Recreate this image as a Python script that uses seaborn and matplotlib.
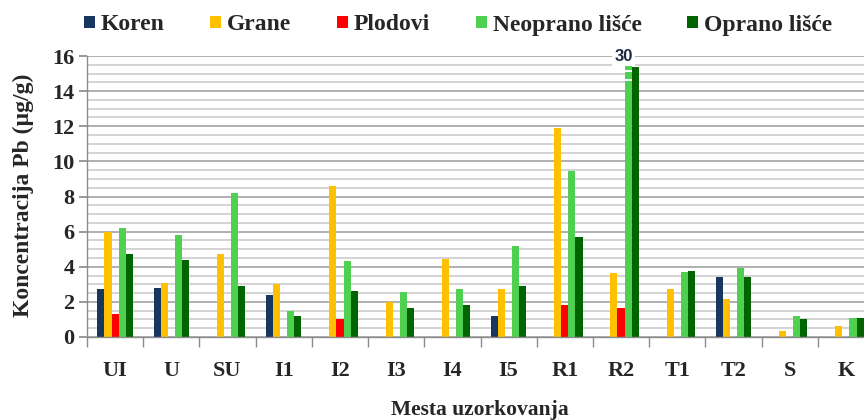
import numpy as np
import pandas as pd
import matplotlib
matplotlib.use("Agg")
import matplotlib.pyplot as plt
import seaborn as sns
from matplotlib.patches import Rectangle
from matplotlib.ticker import MultipleLocator, FixedLocator

nan = np.nan

# Sampling sites and Pb concentrations (µg/g) per plant part
sites = ["UI", "U", "SU", "I1", "I2", "I3", "I4", "I5", "R1", "R2", "T1", "T2", "S", "K"]
parts = ["Koren", "Grane", "Plodovi", "Neoprano lišće", "Oprano lišće"]
koren = [2.75, 2.8, nan, 2.4, nan, nan, nan, 1.2, nan, nan, nan, 3.4, nan, nan]
grane = [6.0, 3.05, 4.7, 3.0, 8.6, 2.0, 4.45, 2.75, 11.9, 3.65, 2.75, 2.15, 0.35, 0.6]
plodovi = [1.3, nan, nan, nan, 1.05, nan, nan, nan, 1.8, 1.65, nan, nan, nan, nan]
neoprano = [6.2, 5.8, 8.2, 1.5, 4.3, 2.55, 2.75, 5.2, 9.45, 30, 3.7, 3.95, 1.2, 1.1]
oprano = [4.7, 4.4, 2.9, 1.2, 2.6, 1.65, 1.8, 2.9, 5.7, 15.35, 3.75, 3.4, 1.0, 1.1]
colors = ["#17375E", "#FFC000", "#FF0000", "#50D050", "#006400"]

y_max = 16
break_top = 15.5  # visible top of bars exceeding the axis range

df = pd.DataFrame({
    "site": np.tile(sites, len(parts)),
    "part": np.repeat(parts, len(sites)),
    "value": np.concatenate([koren, grane, plodovi, neoprano, oprano]),
}).dropna()

sns.set_theme(style="white")
plt.rcParams["font.family"] = ["Liberation Serif", "DejaVu Serif"]
plt.rcParams["font.weight"] = "bold"
plt.rcParams["axes.labelweight"] = "bold"

fig = plt.figure(figsize=(8.64, 4.2), dpi=100)
ax = fig.add_axes([87 / 864, 83 / 420, 787 / 864, 281 / 420])
ax.set_axisbelow(True)

sns.barplot(data=df, x="site", y="value", hue="part", order=sites, hue_order=parts,
            palette=colors, saturation=1, width=0.63, errorbar=None, linewidth=0, ax=ax)

ax.set_xlim(-0.5, len(sites) - 0.5)
ax.set_ylim(0, y_max)

# Grid: major every 2, minor every 0.5
ax.yaxis.set_major_locator(MultipleLocator(2))
ax.yaxis.set_minor_locator(MultipleLocator(0.5))
ax.yaxis.grid(True, which="major", color="#9a9a9a", lw=1.1)
ax.yaxis.grid(True, which="minor", color="#cccccc", lw=1.2)
ax.xaxis.grid(False)

for s in ["top", "right"]:
    ax.spines[s].set_visible(False)
for s in ["left", "bottom"]:
    ax.spines[s].set_color("#8c8c8c")
    ax.spines[s].set_linewidth(1.0)

ax.tick_params(axis="y", which="major", length=6, color="#8c8c8c", direction="out",
               labelsize=16, pad=3, left=True)
ax.tick_params(axis="y", which="minor", length=0)
ax.xaxis.set_minor_locator(FixedLocator(np.arange(-0.5, len(sites), 1)))
ax.tick_params(axis="x", which="major", length=0, labelsize=16, pad=17)
ax.tick_params(axis="x", which="minor", length=7, color="#8c8c8c", direction="out", bottom=True)
for t in ax.get_xticklabels() + ax.get_yticklabels():
    t.set_fontweight("bold")

ax.set_xlabel("")
ax.set_ylabel("")
fig.text(480 / 864, 0.012, "Mesta uzorkovanja", ha="center", va="baseline",
         fontsize=15.5, fontweight="bold")
fig.text(23 / 864, 0.535, "Koncentracija Pb (µg/g)", ha="center", va="center",
         rotation=90, fontsize=17, fontweight="bold")

# Bars beyond the axis range: cut at break_top, add break marks and a value label
for p in ax.patches:
    h = p.get_height()
    if np.isfinite(h) and h > y_max:
        x0, w = p.get_x(), p.get_width()
        clip = Rectangle((x0 - 0.05, 0), w + 0.1, break_top, transform=ax.transData)
        p.set_clip_path(clip)
        ax.hlines([14.65, 15.15], x0, x0 + w, colors="white", lw=1.4, zorder=p.get_zorder() + 1)
        ax.text(x0 + w / 2 - 0.08, y_max, f"{h:g}", ha="center", va="center",
                fontsize=12, fontweight="bold", color="#1c2741", family="Liberation Sans",
                bbox=dict(facecolor="white", edgecolor="none", pad=1.5), clip_on=False)

handles, labels = ax.get_legend_handles_labels()
if ax.get_legend() is not None:
    ax.get_legend().remove()
fig.legend(handles, labels, loc="center", bbox_to_anchor=(458 / 864, 1 - 25 / 420),
           ncol=5, frameon=False, handlelength=0.45, handleheight=0.45,
           handletextpad=0.25, columnspacing=1.95, prop={"weight": "bold", "size": 17})

fig.savefig("out.png", dpi=100, facecolor="white")
